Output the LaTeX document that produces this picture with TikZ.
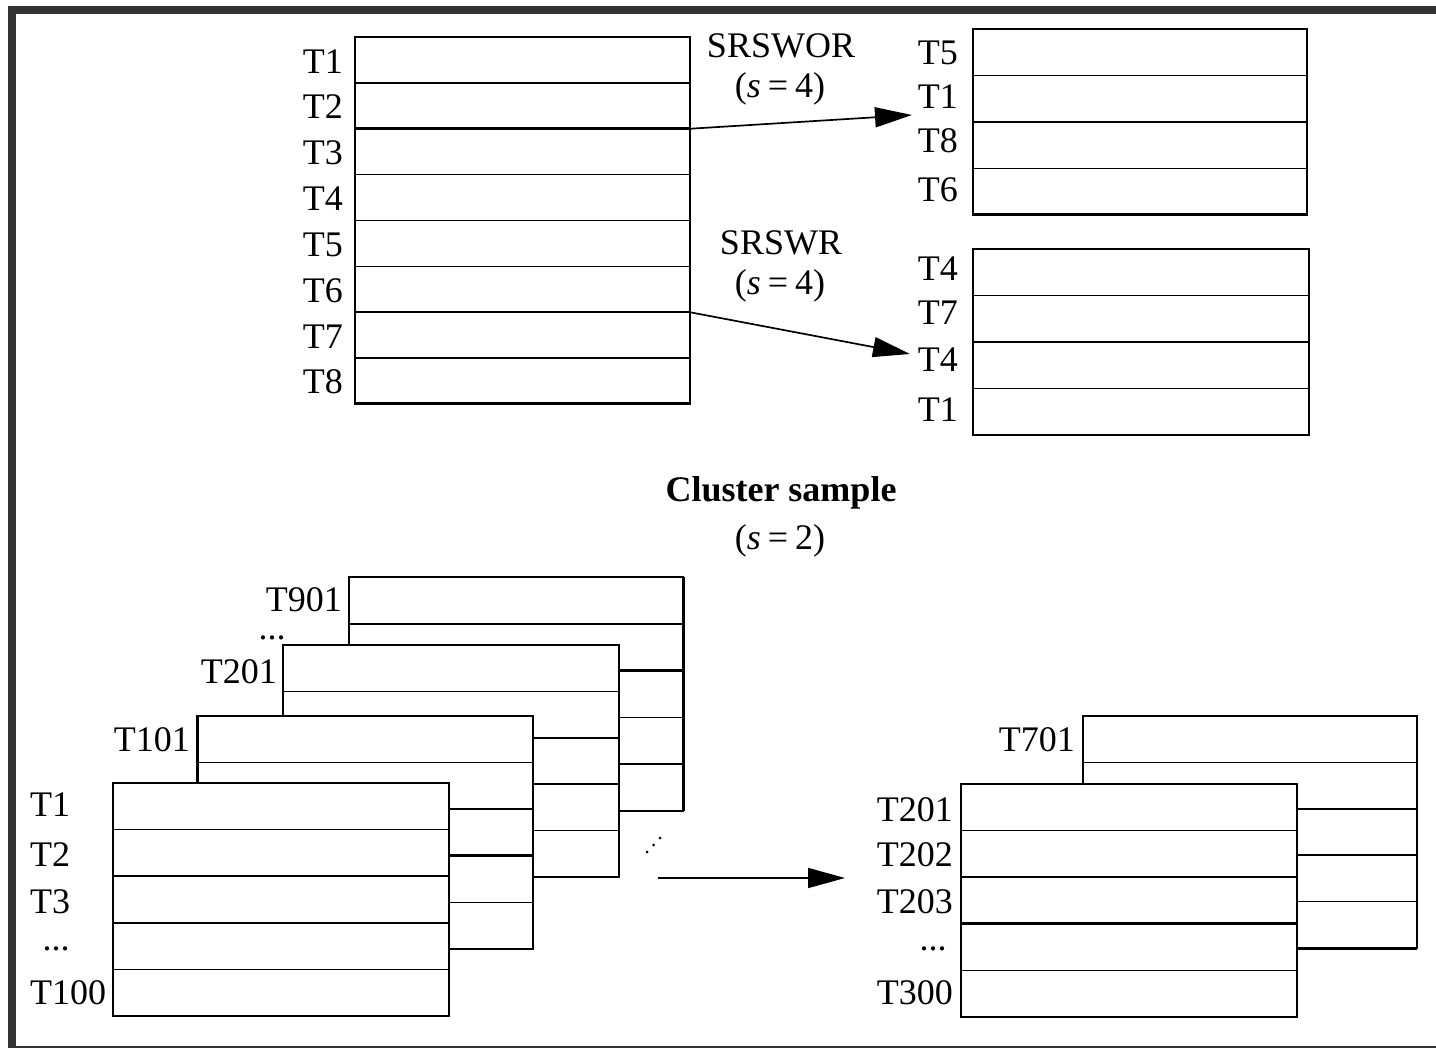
\documentclass[tikz,border=0pt]{standalone}
\usepackage{fontspec}
\setmainfont{Liberation Serif}
\usetikzlibrary{arrows.meta}
\definecolor{framegray}{HTML}{333333}
\tikzset{
  tbl/.style={draw=black, fill=white, line width=1.7pt, inner sep=0pt, outer sep=0pt, rectangle},
  rowline/.style={line width=1.7pt},
  thickline/.style={line width=3pt},
  lbl/.style={inner sep=0pt, font=\fontsize{36}{43}\selectfont},
  arr/.style={line width=1.7pt, -{Triangle[length=37pt,width=20pt]}},
}
\newcommand\mktable[6]{%
  \node[tbl, minimum width=#4pt, minimum height=#5pt, anchor=north west] (#1) at (#2,#3) {};
  \pgfmathtruncatemacro\nrm{#6-1}%
  \foreach \i in {1,...,\nrm}{\draw[rowline] ({#2},{#3+\i*#5/#6}) -- ({#2+#4},{#3+\i*#5/#6});}%
}
\newcommand\seq[1]{(\textit{s}\hspace{7pt}=\hspace{7pt}#1)}
\begin{document}
\begin{tikzpicture}[x=1pt,y=-1pt]
\useasboundingbox (0,0) rectangle (1436,1048);
% frame
\fill[framegray] (8,6) rectangle (1436,14);
\fill[framegray] (8,6) rectangle (16,1048);
\draw[framegray, line width=1.5pt] (16,1047) -- (1436,1047);

% ---------- top-left table
\mktable{tl}{355}{37}{335}{367}{8}
\draw[thickline] (355,128.75) -- (690,128.75);
\draw[thickline] (tl.south west) -- (tl.south east);
\foreach \t/\y in {T1/62,T2/107,T3/153,T4/199,T5/245,T6/291,T7/337,T8/382}
  \node[lbl, anchor=east] (tl-\t) at (343,\y) {\t};

% ---------- top-right tables
\mktable{wor}{973}{29}{334}{186}{4}
\draw[thickline] (wor.south west) -- (wor.south east);
\node[lbl, anchor=east] (wor1) at (958,53) {T5};
\node[lbl, anchor=east] (wor2) at (958,97) {T1};
\node[lbl, anchor=east] (wor3) at (958,141) {T8};
\node[lbl, anchor=east] (wor4) at (958,190) {T6};

\mktable{wr}{973}{249}{336}{186}{4}
\node[lbl, anchor=east] (wr1) at (958,269) {T4};
\node[lbl, anchor=east] (wr2) at (958,313) {T7};
\node[lbl, anchor=east] (wr3) at (958,360) {T4};
\node[lbl, anchor=east] (wr4) at (958,410) {T1};

% arrows + labels
\coordinate (a1s) at (690,128.75);
\coordinate (a1e) at (912,115);
\draw[arr] (a1s) -- (a1e);
\node[lbl] (srswor) at (781,46) {SRSWOR};
\node[lbl] (srsworS) at (780,89) {\seq{4}};

\coordinate (a2s) at (690,312.25);
\coordinate (a2e) at (910,354);
\draw[arr] (a2s) -- (a2e);
\node[lbl] (srswr) at (781,243) {SRSWR};
\node[lbl] (srswrS) at (780,286) {\seq{4}};

\node[lbl, font=\fontsize{36}{43}\selectfont\bfseries] (cluster) at (781,493) {Cluster sample};
\node[lbl] (clusterS) at (780,541) {\seq{2}};

% ---------- bottom-left stack
\mktable{c901}{349}{577}{334}{234}{5}
\draw[thickline] (c901.north east) -- (c901.south east);
\draw[thickline] (349,670.6) -- (683,670.6);
\node[lbl, anchor=east] (l901) at (342,600) {T901};
\node[lbl, anchor=base] (ldots1) at (272,639) {...};

\mktable{c201}{283}{645}{336}{232}{5}
\node[lbl, anchor=east] (l201) at (277,672) {T201};

\mktable{c101}{197}{716}{336}{233}{5}
\draw[thickline] (c101.north west) -- (c101.south west);
\draw[thickline] (197,855.8) -- (533,855.8);
\node[lbl, anchor=east] (l101) at (190,740) {T101};

\mktable{c1}{113}{783}{336}{233}{5}
\node[lbl, anchor=west] (l1) at (30,805) {T1};
\node[lbl, anchor=west] (l2) at (30,855) {T2};
\node[lbl, anchor=west] (l3) at (30,902) {T3};
\node[lbl, anchor=base] (ldots2) at (56,950) {...};
\node[lbl, anchor=west] (l100) at (30,993) {T100};

% diagonal dots
\foreach \x/\y in {647/852,653.5/845,660/838}
  \fill (\x,\y) circle (1.5pt);

% ---------- bottom-right stack
\mktable{r701}{1083}{716}{334}{232}{5}
\draw[thickline] (r701.south west) -- (r701.south east);
\node[lbl, anchor=east] (r701l) at (1075,740) {T701};

\mktable{r201}{961}{784}{336}{233}{5}
\draw[thickline] (961,923.8) -- (1297,923.8);
\node[lbl, anchor=east] (r201l) at (953,810) {T201};
\node[lbl, anchor=east] (r202l) at (953,855) {T202};
\node[lbl, anchor=east] (r203l) at (953,902) {T203};
\node[lbl, anchor=base] (rdots) at (933,950) {...};
\node[lbl, anchor=east] (r300l) at (953,993) {T300};

\coordinate (a3s) at (658,878);
\coordinate (a3e) at (845,878);
\draw[arr] (a3s) -- (a3e);
\end{tikzpicture}
\end{document}
